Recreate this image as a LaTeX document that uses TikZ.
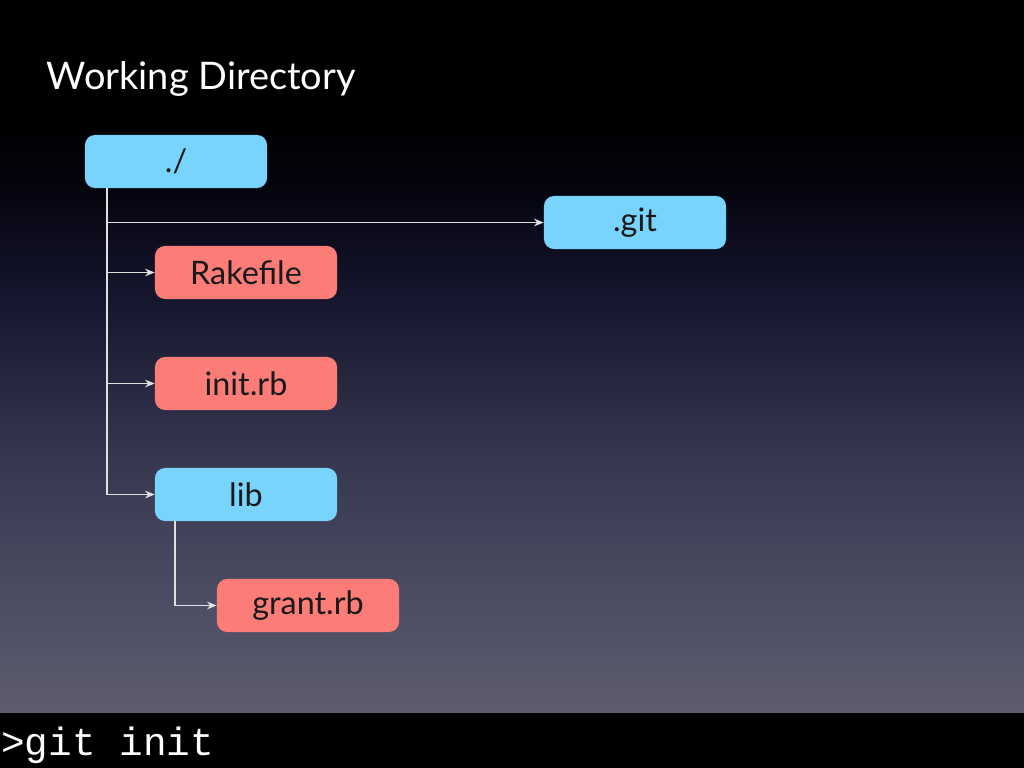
\documentclass[tikz,border=0pt]{standalone}
\usepackage{fontspec}
\setmainfont{Lato}
\setmonofont{Liberation Mono}
\usetikzlibrary{arrows.meta, calc}
\definecolor{dirBlue}{HTML}{78D4FC}
\definecolor{fileRed}{HTML}{FC7C77}
\definecolor{treeGray}{HTML}{E0E0E0}
\pgfdeclareverticalshading{slidebg}{100bp}{%
  color(0bp)=(rgb,255:red,94;green,93;blue,110);
  color(25bp)=(rgb,255:red,94;green,93;blue,110);
  color(33bp)=(rgb,255:red,76;green,76;blue,99);
  color(43bp)=(rgb,255:red,54;green,54;blue,79);
  color(54bp)=(rgb,255:red,22;green,22;blue,47);
  color(62bp)=(rgb,255:red,4;green,4;blue,14);
  color(67bp)=(rgb,255:red,0;green,0;blue,0);
  color(100bp)=(rgb,255:red,0;green,0;blue,0)}

\begin{document}
\begin{tikzpicture}[x=0.025cm, y=-0.025cm,
      every node/.style={font=\fontsize{23}{27}\selectfont, text=black!90},
      entry/.style={rounded corners=0.25cm, minimum width=4.55cm,
                    minimum height=1.325cm, inner sep=0pt},
      dirbox/.style={entry, fill=dirBlue},
      filebox/.style={entry, fill=fileRed},
      tree/.style={-{Stealth[length=2.4mm, width=1.9mm]}, treeGray, line width=1.3pt},
    ]
      % slide background
      \shade[shading=slidebg] (0,0) rectangle (1024,713);
      \fill[black] (0,713) rectangle (1024,768);

      \node[anchor=base west, text=white, font=\fontsize{27}{32}\selectfont]
        (title) at (42,90) {Working Directory};

      \node[dirbox]  (root)   at (176,161.5) {./};
      \node[dirbox]  (git)    at (635,222.5) {.git};
      \node[filebox] (rake)   at (246,272.5) {Rakefile};
      \node[filebox] (initrb) at (246,383.5) {init.rb};
      \node[dirbox]  (lib)    at (246,494.5) {lib};
      \node[filebox] (grant)  at (308,605.5) {grant.rb};

      \coordinate (trunk)  at ([xshift=0.55cm]root.south west);
      \coordinate (branch) at ([xshift=0.5cm]lib.south west);
      \draw[tree] (trunk) |- (git);
      \draw[tree] (trunk) |- (rake);
      \draw[tree] (trunk) |- (initrb);
      \draw[tree] (trunk) |- (lib);
      \draw[tree] (branch) |- (grant);

      \node[anchor=base west, inner sep=0pt, text=white,
            font=\ttfamily\fontsize{28}{32}\selectfont]
        (cmd) at (1,755) {>git init};
    \end{tikzpicture}
\end{document}
